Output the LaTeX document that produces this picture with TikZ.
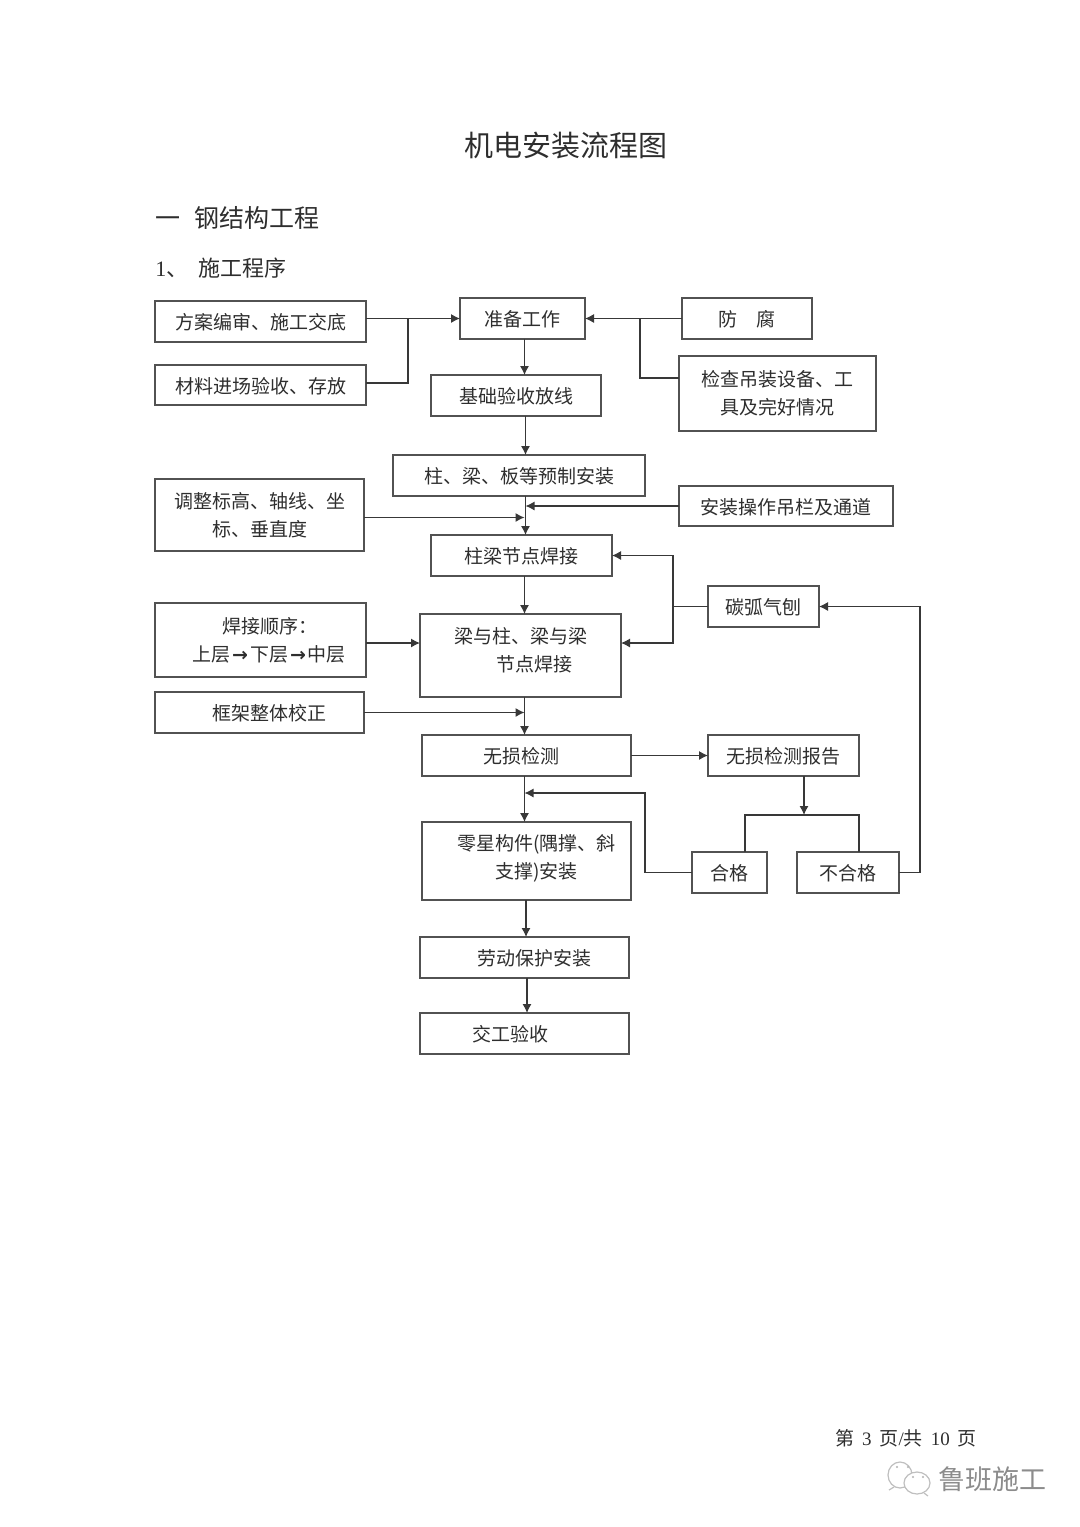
\documentclass[tikz,border=0pt]{standalone}
\usepackage{fontspec}
\setmainfont{Noto Sans CJK SC}
\newfontfamily\latinfont{Liberation Serif}
\newfontfamily\arrowfont{DejaVu Sans Bold}
\usetikzlibrary{positioning, arrows.meta}

\begin{document}
\begin{tikzpicture}[
every node/.style={text=black!82},
stage/.style={rectangle, draw=black!68, line width=.6pt, inner sep=0pt, outer sep=0pt, align=center, minimum height=20.5pt, text height=9pt, font=\fontsize{9.5pt}{14pt}\selectfont},
tall/.style={text height=},
flow/.style={draw=black!78, line width=.55pt, -{Latex[length=4.5pt, width=4.5pt]}},
wire/.style={draw=black!78, line width=.55pt},
bubble/.style={draw=black!25, fill=white, line width=.6pt},
eye/.style={fill=black!30, draw=none}
]
\useasboundingbox (0,0) rectangle (540pt,-763.5pt);

% headings
\node [font=\fontsize{14.5pt}{16pt}\selectfont] (title) at (283pt,-73pt) {机电安装流程图};
\node [anchor=west, inner sep=0pt, font=\fontsize{12.5pt}{14pt}\selectfont] (section) at (77.5pt,-109pt) {一\hspace{7pt}钢结构工程};
\node [anchor=west, inner sep=0pt, font=\fontsize{11pt}{13pt}\selectfont] (subsection) at (77.5pt,-134pt) {{\latinfont 1}、\hspace{5pt}施工程序};

% main column
\node [stage, minimum width=62.5pt] (prepare) at (261.25pt,-159.25pt) {准备工作};
\node [stage, minimum width=85pt] (base) [below=18pt of prepare, xshift=-3.25pt] {基础验收放线};
\node [stage, minimum width=126pt] (precast) [below=19.5pt of base, xshift=1.5pt] {柱、梁、板等预制安装};
\node [stage, minimum width=90.5pt] (joint) [below=19.5pt of precast, xshift=1.25pt] {柱梁节点焊接};
\node [stage, tall, minimum width=100.5pt, minimum height=41.5pt] (weld) [below=19pt of joint, xshift=-.5pt] {梁与柱、梁与梁\\\hspace*{14pt}节点焊接\\[-8.5pt]~};
\node [stage, minimum width=104.5pt] (ndt) [below=19pt of weld, xshift=3pt] {无损检测\hspace*{5pt}};
\node [stage, tall, minimum width=104.5pt, minimum height=39pt] (minor) [below=23pt of ndt] {\hspace*{10pt}零星构件(隅撑、斜\\\hspace*{10pt}支撑)安装\\[-10pt]~};
\node [stage, minimum width=104.5pt] (safety) [below=18.5pt of minor, xshift=-1pt] {\hspace*{9.5pt}劳动保护安装};
\node [stage, minimum width=104.5pt] (accept) [below=17.5pt of safety] {交工验收\hspace*{14.5pt}};

% left column
\node [stage, minimum width=105.5pt] (plan) [left=47pt of prepare, yshift=-1.5pt] {方案编审、施工交底};
\node [stage, minimum width=105.5pt, minimum height=20pt] (material) [below=11.5pt of plan] {材料进场验收、存放};
\node [stage, tall, minimum width=104.5pt, minimum height=36pt] (adjust) [left=14.5pt of precast, yshift=-19.75pt] {调整标高、轴线、坐\\标、垂直度};
\node [stage, tall, minimum width=105.5pt, minimum height=37pt] (order) [left=27pt of weld, yshift=7.75pt] {\hspace*{9pt}焊接顺序：\\\hspace*{8.5pt}上层\hspace{1pt}{\arrowfont→}\hspace{1pt}下层\hspace{1pt}{\arrowfont→}\hspace{1pt}中层};
\node [stage, minimum width=104.5pt] (frame) [below=7.5pt of order, xshift=-.5pt] {\hspace*{9.5pt}框架整体校正};

% right column
\node [stage, minimum width=65pt] (coating) [right=48.5pt of prepare] {防\hspace{9.5pt}腐};
\node [stage, tall, minimum width=98.5pt, minimum height=37.5pt] (hoist) [below=8.5pt of coating, xshift=15.25pt] {检查吊装设备、工\\具及完好情况};
\node [stage, minimum width=107pt, minimum height=20pt] (rail) [right=17pt of precast, yshift=-15.25pt] {安装操作吊栏及通道};
\node [stage, minimum width=55.5pt] (gouge) [right=48pt of joint, yshift=-25.5pt] {碳弧气刨};
\node [stage, minimum width=75.5pt] (report) [right=38.5pt of ndt] {无损检测报告};
\node [stage, minimum width=37.5pt] (pass) [right=30.5pt of minor, yshift=-5.75pt] {合格};
\node [stage, minimum width=51pt] (fail) [right=15pt of pass] {不合格};

% footer
\node [font=\fontsize{9.5pt}{11pt}\selectfont] (page) at (453pt,-719pt) {第\hspace{4pt}{\latinfont 3}\hspace{4pt}页{\latinfont /}共\hspace{4pt}{\latinfont 10}\hspace{4pt}页};
\draw [bubble] (450pt,-737.5pt) ellipse (6pt and 6.5pt);
\draw [bubble] (447pt,-743.5pt) -- (444.5pt,-745pt);
\draw [bubble] (458.5pt,-741.5pt) ellipse (6.5pt and 5.5pt);
\draw [bubble] (462pt,-746.5pt) -- (464pt,-748pt);
\fill [eye] (448.5pt,-733.5pt) circle (.6pt) (454pt,-733.5pt) circle (.6pt);
\fill [eye] (456.5pt,-738.5pt) circle (.6pt) (461.5pt,-738.5pt) circle (.6pt);
\node [anchor=west, inner sep=0pt, text=black!45, font=\fontsize{13.5pt}{15pt}\selectfont] (mark) at (469pt,-739.5pt) {鲁班施工};

% junctions
\coordinate [right=1pt of prepare.south] (spine);
\coordinate [left=26pt of prepare.west] (joinleft);
\coordinate [left=21pt of coating.west] (joinright);
\coordinate [left=17.5pt of gouge.west] (joingouge);
\coordinate [above=6.25pt of weld.east] (weldright);
\coordinate [above=6.25pt of weld.west] (weldleft);
\coordinate [below=19.5pt of report.south, xshift=10.25pt] (split);
\coordinate [right=10.5pt of fail.east] (failturn);
\coordinate [left=23.5pt of pass.west] (passturn);
\coordinate [below=8.5pt of ndt.south] (backin);
\coordinate [below=10.75pt of precast.south] (adjustin);
\coordinate [above=7.75pt of hoist.west] (hoistout);
\coordinate [above=1pt of material.east] (materialout);

% main column arrows
\draw [flow] (spine |- prepare.south) -- (spine |- base.north);
\draw [flow] ([xshift=.5pt]spine |- base.south) -- ([xshift=.5pt]spine |- precast.north);
\draw [flow] ([xshift=.5pt]spine |- precast.south) -- ([xshift=.5pt]spine |- joint.north);
\draw [flow] (spine |- joint.south) -- (spine |- weld.north);
\draw [flow] (spine |- weld.south) -- (spine |- ndt.north);
\draw [flow] (spine |- ndt.south) -- (spine |- minor.north);
\draw [flow] ([xshift=.75pt]spine |- minor.south) -- ([xshift=.75pt]spine |- safety.north);
\draw [flow] ([xshift=1.25pt]spine |- safety.south) -- ([xshift=1.25pt]spine |- accept.north);

% side arrows
\draw [flow] (plan.east |- prepare.west) -- (prepare.west);
\draw [wire] (materialout) -| (joinleft);
\draw [flow] (coating.west) -- (prepare.east);
\draw [wire] (hoistout) -| (joinright);
\draw [flow] (adjust.east |- adjustin) -- (spine |- adjustin);
\draw [flow] (rail.west) -- ([xshift=.5pt]spine |- rail.west);
\draw [wire] (gouge.west) -- (joingouge);
\draw [flow] (joingouge) |- (joint.east);
\draw [flow] (joingouge) |- (weldright);
\draw [flow] (order.east |- weldleft) -- (weldleft);
\draw [flow] (frame.east) -- (spine |- frame.east);
\draw [flow] (ndt.east) -- (report.west);
\draw [flow] (split |- report.south) -- (split);
\draw [wire] ([xshift=7.75pt]pass.north) |- (split) -| ([xshift=5.5pt]fail.north);
\draw [flow] (pass.west) -- (passturn) |- (spine |- backin);
\draw [flow] (fail.east) -- (failturn) |- (gouge.east);

\end{tikzpicture}
\end{document}
